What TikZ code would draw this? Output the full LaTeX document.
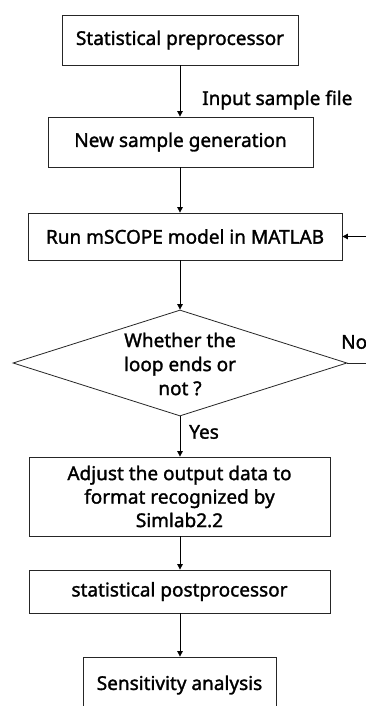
\documentclass[tikz,border=0pt]{standalone}
\usepackage{fontspec}
\setmainfont{Noto Sans}[FakeBold=1.5]
\usetikzlibrary{arrows.meta,shapes.geometric}
\begin{document}
\begin{tikzpicture}[x=1pt,y=-1pt,
  box/.style={draw=black!85,line width=0.8pt,inner sep=0pt,align=center,font=\fontsize{19}{23.5}\selectfont\bfseries},
  lbl/.style={inner sep=0pt,anchor=west,font=\fontsize{19}{20}\selectfont\bfseries},
  arr/.style={draw=black,line width=0.8pt,-{Triangle[length=5.5pt,width=5.5pt]}},
  ln/.style={draw=black!85,line width=0.8pt}]
\useasboundingbox[fill=white] (0,0) rectangle (365,706);
\node[box,minimum width=236,minimum height=50] (b1) at (180,40) {Statistical preprocessor};
\node[box,minimum width=265,minimum height=50] (b2) at (180.5,142) {New sample generation};
\node[box,minimum width=314,minimum height=47] (b3) at (185,236.5) {Run mSCOPE model in MATLAB};
\node[draw=black!85,line width=0.8pt,diamond,inner sep=0pt,minimum width=334,minimum height=106] (d) at (180,363) {};
\node[box,draw=none,font=\fontsize{19}{24}\selectfont\bfseries] (dt) at (180,364) {Whether the\\loop ends or\\not ?};
\node[box,minimum width=301,minimum height=79] (b4) at (179.5,496.5) {Adjust the output data to\\format recognized by\\Simlab2.2};
\node[box,minimum width=301,minimum height=43] (b5) at (179.5,591.5) {statistical postprocessor};
\node[box,minimum width=193,minimum height=56] (b6) at (179.5,685) {Sensitivity analysis};
\node[lbl] (l1) at (202,100) {Input sample file};
\node[lbl] (l2) at (189,432) {Yes};
\node[lbl] (l3) at (341,342) {No};
\coordinate (r1) at (380,363);
\coordinate (r2) at (380,236.5);
\draw[arr] (b1.south -| d.north) -- (b2.north -| d.north);
\draw[arr] (b2.south -| d.north) -- (b3.north -| d.north);
\draw[arr] (b3.south -| d.north) -- (d.north);
\draw[arr] (d.south) -- (b4.north -| d.south);
\draw[arr] (b4.south -| d.north) -- (b5.north -| d.north);
\draw[arr] (b5.south -| d.north) -- (b6.north -| d.north);
\draw[ln] (d.east) -- (r1) -- (r2);
\draw[arr] (r2) -- (b3.east);
\end{tikzpicture}
\end{document}
